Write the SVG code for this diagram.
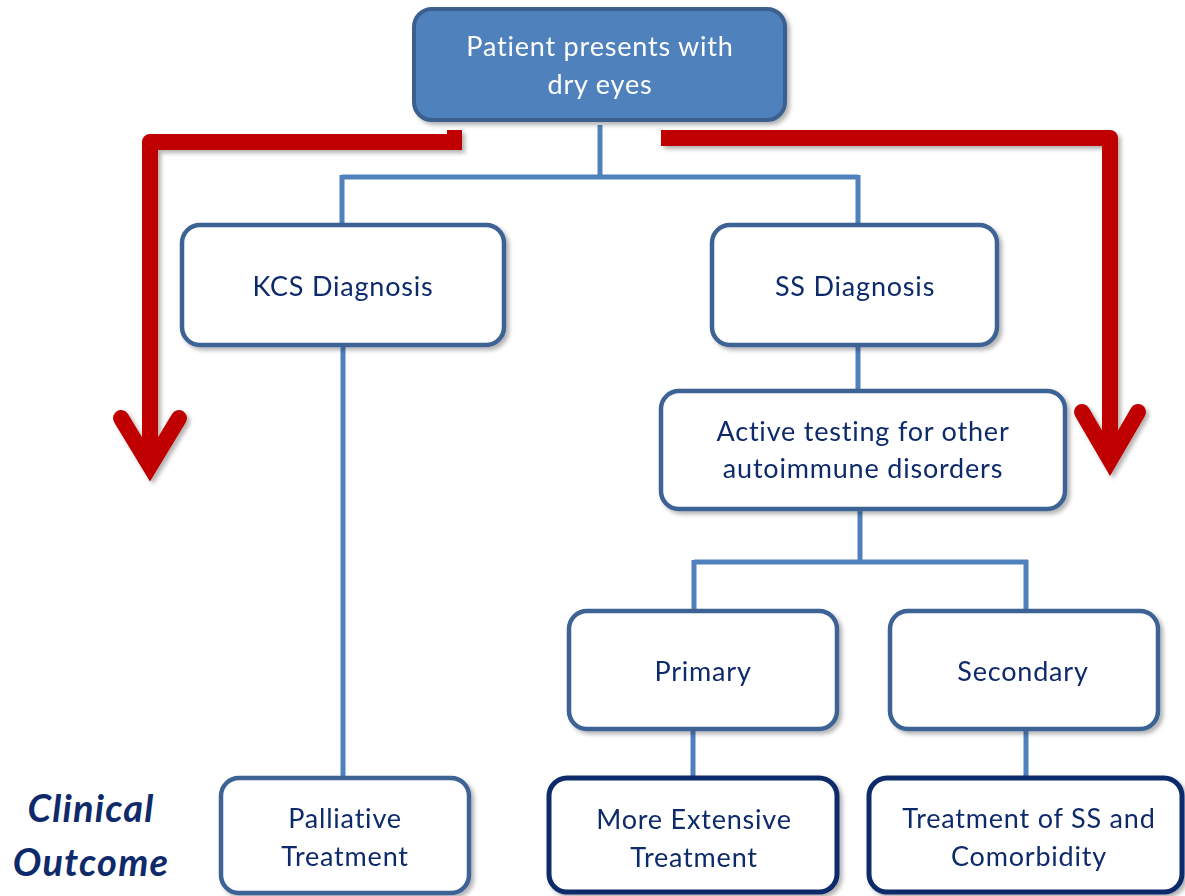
<svg xmlns="http://www.w3.org/2000/svg" width="1185" height="896" viewBox="0 0 1185 896">
<style>
.box{fill:#ffffff;stroke:#3c6394;stroke-width:4.5}
.outbox{fill:#ffffff;stroke:#0f2a6b;stroke-width:5}
.lbl{font-family:Lato,"Open Sans","Liberation Sans",sans-serif;font-size:27px;letter-spacing:0.8px;fill:#0f2a6b;text-anchor:middle}
.co{font-family:Lato,"Open Sans","Liberation Sans",sans-serif;font-size:38px;letter-spacing:1.2px;font-weight:bold;font-style:italic;fill:#0f2a6b;text-anchor:middle}
.conn{stroke:#4f81bd;stroke-width:5;fill:none}
.red{stroke:#c00000;stroke-width:16;fill:none}
</style>
<defs>
<filter id="sh" x="-10%" y="-10%" width="130%" height="130%">
<feDropShadow dx="3" dy="3" stdDeviation="2" flood-color="#000" flood-opacity="0.3"/>
</filter>
</defs>
<rect width="1185" height="896" fill="#ffffff"/>

<g id="connectors">
<path class="conn" d="M600 125 V177 M342 177 H858 M342 175 V225 M858 175 V225"/>
<path class="conn" d="M343 346 V778"/>
<path class="conn" d="M858 346 V392"/>
<path class="conn" d="M860 510 V562 M694 562 H1028 M694 560 V611 M1026 560 V611"/>
<path class="conn" d="M693 730 V778 M1026 730 V778"/>
</g>

<g id="red-arrows" filter="url(#sh)">
<path class="red" d="M462 142 H150 V462" stroke-linejoin="round"/>
<rect x="447" y="130" width="15" height="12" fill="#c00000"/>
<polyline class="red" points="121,418 150,466 179,418" stroke-linecap="round" stroke-linejoin="miter"/>
<path class="red" d="M661 138 H1110 V456" stroke-linejoin="round"/>
<polyline class="red" points="1082,412 1110,460 1138,412" stroke-linecap="round" stroke-linejoin="miter"/>
</g>

<g id="n-patient" filter="url(#sh)">
<rect x="414" y="9" width="371" height="111" rx="18" fill="#4f81bd" stroke="#3a6190" stroke-width="4"/>
<text class="lbl" x="600" y="56" style="fill:#ffffff">Patient presents with</text>
<text class="lbl" x="600" y="94" style="fill:#ffffff">dry eyes</text>
</g>

<g id="n-kcs" filter="url(#sh)">
<rect class="box" x="182" y="225" width="322" height="120" rx="18"/>
<text class="lbl" x="343" y="296">KCS Diagnosis</text>
</g>

<g id="n-ss" filter="url(#sh)">
<rect class="box" x="712" y="225" width="285" height="120" rx="18"/>
<text class="lbl" x="855" y="296">SS Diagnosis</text>
</g>

<g id="n-active" filter="url(#sh)">
<rect class="box" x="661" y="391" width="404" height="118" rx="18"/>
<text class="lbl" x="863" y="441">Active testing for other</text>
<text class="lbl" x="863" y="478">autoimmune disorders</text>
</g>

<g id="n-primary" filter="url(#sh)">
<rect class="box" x="569" y="611" width="268" height="118" rx="18"/>
<text class="lbl" x="703" y="681">Primary</text>
</g>

<g id="n-secondary" filter="url(#sh)">
<rect class="box" x="890" y="611" width="268" height="118" rx="18"/>
<text class="lbl" x="1023" y="681">Secondary</text>
</g>

<g id="n-palliative" filter="url(#sh)">
<rect class="box" x="221" y="778" width="248" height="115" rx="18"/>
<text class="lbl" x="345" y="828">Palliative</text>
<text class="lbl" x="345" y="866">Treatment</text>
</g>

<g id="n-extensive" filter="url(#sh)">
<rect class="outbox" x="549" y="778" width="288" height="114" rx="18"/>
<text class="lbl" x="694" y="829">More Extensive</text>
<text class="lbl" x="694" y="867">Treatment</text>
</g>

<g id="n-comorbidity" filter="url(#sh)">
<rect class="outbox" x="869" y="778" width="313" height="114" rx="18"/>
<text class="lbl" x="1029" y="828">Treatment of SS and</text>
<text class="lbl" x="1029" y="866">Comorbidity</text>
</g>

<g id="clinical-outcome">
<text class="co" x="91" y="822">Clinical</text>
<text class="co" x="91" y="876">Outcome</text>
</g>
</svg>
